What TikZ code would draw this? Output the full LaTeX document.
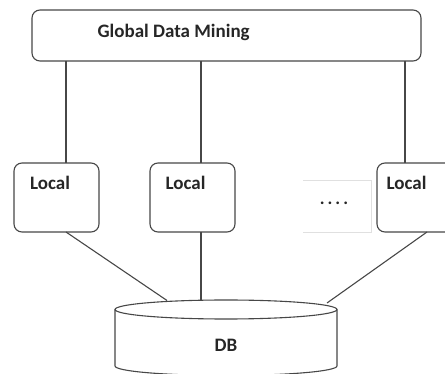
\documentclass[tikz,border=0pt]{standalone}
\usepackage{fontspec}
\setmainfont{Carlito}
\begin{document}
\begin{tikzpicture}[x=1pt,y=1pt,
  line width=1.1pt,
  edge/.style={draw=black!72},
  box/.style={draw=black!72, rounded corners=8pt},
  lbl/.style={font=\bfseries\fontsize{19}{22}\selectfont, text=black!85, inner sep=0pt}]
\useasboundingbox (0,0) rectangle (445,-374);
\clip (0,0) rectangle (445,-374);

% coordinator on top
\draw[box] (32,-10) rectangle (421,-61);
\node[lbl, anchor=west] (gtext) at (97,-32.5) {Global Data Mining};

% local miners
\draw[box] (14,-163) rectangle (99,-232);
\node[lbl] (l1) at (50,-183) {Local};
\draw[box] (150,-163) rectangle (235,-232);
\node[lbl] (l2) at (185.5,-183) {Local};
\draw[box] (377,-163) rectangle (462,-232);
\node[lbl] (l3) at (406.5,-183) {Local};

% placeholder for further sites
\draw[black!12, line width=0.8pt] (303,-180) -- (371,-180) -- (371,-232) -- (303,-232);
\node[lbl, font=\bfseries\fontsize{18}{20}\selectfont] (dots) at (334,-203) {.\hspace{3pt}.\hspace{3pt}.\hspace{3pt}.};

% database cylinder
\draw[edge, fill=white] (115,-309.5) -- (115,-366)
  arc[start angle=180, end angle=360, x radius=111, y radius=9.5]
  -- (337,-309.5);
\draw[edge] (226,-309.5) ellipse[x radius=111, y radius=9.5];
\node[lbl] (db) at (226,-345) {DB};

% attachment points
\coordinate (g1) at (66,-61);   \coordinate (t1) at (66,-163);
\coordinate (g2) at (201,-61);  \coordinate (t2) at (201,-163);
\coordinate (g3) at (405,-61);  \coordinate (t3) at (405,-163);
\coordinate (b1) at (66,-232);  \coordinate (d1) at (167,-300.5);
\coordinate (b2) at (201,-232); \coordinate (d2) at (201,-300);
\coordinate (b3) at (427,-232); \coordinate (d3) at (327,-303);

\draw[edge] (g1) -- (t1);
\draw[edge] (g2) -- (t2);
\draw[edge] (g3) -- (t3);
\draw[edge] (b1) -- (d1);
\draw[edge] (b2) -- (d2);
\draw[edge] (b3) -- (d3);
\end{tikzpicture}
\end{document}
